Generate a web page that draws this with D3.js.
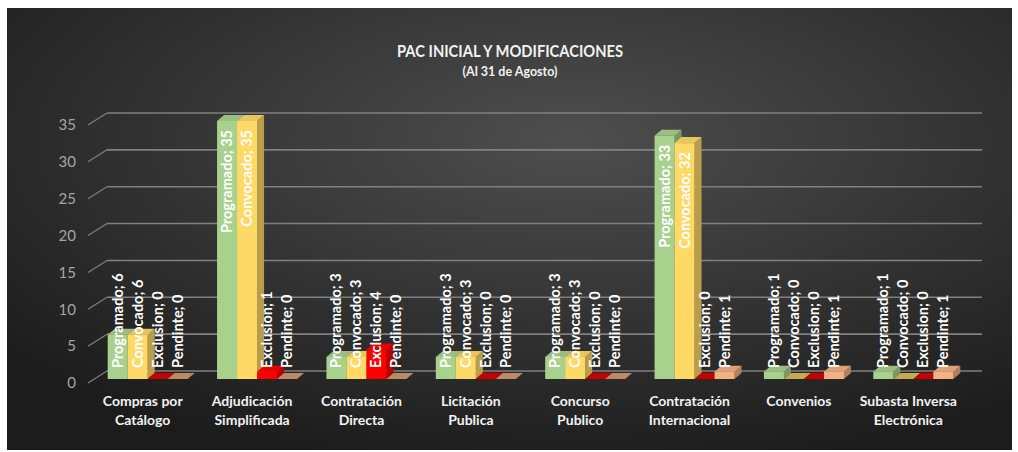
<!DOCTYPE html>
<html lang="es">
<head>
<meta charset="utf-8">
<title>PAC inicial y modificaciones</title>
<script src="https://cdn.jsdelivr.net/npm/d3@7/dist/d3.min.js"></script>
<style type="text/css">
  body { margin: 0; background: #fff; }
  text { font-family: Lato, "Open Sans", sans-serif; }
</style>
</head>
<body>
<script type="text/javascript">

// data
var categories = ["Compras por Catálogo", "Adjudicación Simplificada", "Contratación Directa",
  "Licitación Publica", "Concurso Publico", "Contratación Internacional", "Convenios",
  "Subasta Inversa Electrónica"];
var catLines = [["Compras por", "Catálogo"], ["Adjudicación", "Simplificada"], ["Contratación", "Directa"],
  ["Licitación", "Publica"], ["Concurso", "Publico"], ["Contratación", "Internacional"], ["Convenios"],
  ["Subasta Inversa", "Electrónica"]];
var seriesNames = ["Programado", "Convocado", "Exclusion", "Pendinte"];
var programado = [6, 35, 3, 3, 3, 33, 1, 1];
var convocado  = [6, 35, 3, 3, 3, 32, 0, 0];
var exclusion  = [0, 1, 4, 0, 0, 0, 0, 0];
var pendinte   = [0, 0, 0, 0, 0, 1, 1, 1];
var yTicks = [0, 5, 10, 15, 20, 25, 30, 35];

var seriesValues = [programado, convocado, exclusion, pendinte];
var colors = ["#a9d18e", "#ffd966", "#ff0000", "#f4b183"];

var W = 1018, H = 452;
var depthX = 7, depthY = 6;     // 3d offset of the bars
var wallX = 19, wallY = 12;     // 3d offset of the walls

var svg = d3.select("body").append("svg")
  .attr("width", W).attr("height", H);

var defs = svg.append("defs");
var grad = defs.append("radialGradient").attr("id", "bg")
  .attr("cx", "56%").attr("cy", "30%").attr("r", "75%");
grad.append("stop").attr("offset", "0%").attr("stop-color", "#4e4e4e");
grad.append("stop").attr("offset", "100%").attr("stop-color", "#1c1c1c");

svg.append("rect")
  .attr("x", 7).attr("y", 8).attr("width", 1005).attr("height", 442)
  .attr("fill", "url(#bg)");

// scales
var y = d3.scaleLinear().domain([0, 35]).range([379, 121]);
var x0 = d3.scaleBand().domain(categories).range([93, 968]);
var x1 = d3.scaleBand().domain(seriesNames).range([0, 80]);
var groupOff = (x0.bandwidth() - 80) / 2;

// gridlines (back wall + diagonal on the side wall)
var grid = svg.append("g");
yTicks.forEach(function (t) {
  var yb = y(t) - 8;
  grid.append("line")
    .attr("x1", 107).attr("x2", 982).attr("y1", yb).attr("y2", yb)
    .attr("stroke", "#808080").attr("stroke-width", 1.6);
  grid.append("line")
    .attr("x1", 107 - wallX).attr("y1", yb + wallY).attr("x2", 107).attr("y2", yb)
    .attr("stroke", "#808080").attr("stroke-width", 1.2);
});

// y axis labels
var yAxis = svg.append("g")
  .attr("transform", "translate(80,4)")
  .call(d3.axisLeft(y).tickValues(yTicks).tickSize(0).tickPadding(4));
yAxis.select(".domain").remove();
yAxis.selectAll("text")
  .attr("fill", "#a6a6a6").style("font-size", "15px").style("font-family", "Lato, sans-serif");

function shade(c, k) {
  return d3.color(c).darker(k).formatHex();
}

// bars
var bars = svg.append("g");
var labels = svg.append("g");
categories.forEach(function (cat, i) {
  seriesNames.forEach(function (s, j) {
    var v = seriesValues[j][i];
    var xl = x0(cat) + groupOff + x1(s);
    var w = x1.bandwidth();
    var yt = y(v), yb = y(0);
    var c = colors[j];
    // side
    if (v > 0) {
      bars.append("path")
        .attr("d", "M" + (xl + w) + "," + yb + "L" + (xl + w + depthX) + "," + (yb - depthY) +
          "L" + (xl + w + depthX) + "," + (yt - depthY) + "L" + (xl + w) + "," + yt + "Z")
        .attr("fill", shade(c, 0.9));
      bars.append("rect")
        .attr("x", xl).attr("y", yt).attr("width", w).attr("height", yb - yt)
        .attr("fill", c);
    }
    // top
    bars.append("path")
      .attr("d", "M" + xl + "," + yt + "L" + (xl + depthX) + "," + (yt - depthY) +
        "L" + (xl + w + depthX) + "," + (yt - depthY) + "L" + (xl + w) + "," + yt + "Z")
      .attr("fill", v > 0 ? shade(c, 0.25) : shade(c, 0.7));

    // data label
    var lbl = labels.append("text")
      .attr("fill", "#ffffff")
      .style("font-size", "14.5px").style("font-weight", "bold")
      .text(s + "; " + v);
    var len = lbl.node().getComputedTextLength();
    var cx = xl + w / 2 + 5;
    var bottom = Math.min(yb - 11, yt + 9 + len);
    lbl.attr("transform", "translate(" + cx + "," + bottom + ") rotate(-90)");
  });
});

// category labels
var xAxis = svg.append("g")
  .attr("transform", "translate(0,392)")
  .call(d3.axisBottom(x0).tickSize(0).tickFormat(""));
xAxis.select(".domain").remove();
xAxis.selectAll(".tick").each(function (d, i) {
  var lx = groupOff + 40 - x0.bandwidth() / 2 - 5;
  var t = d3.select(this).append("text")
    .attr("text-anchor", "middle")
    .attr("fill", "#f2f2f2")
    .style("font-size", "14px").style("font-weight", "bold");
  catLines[i].forEach(function (line, k) {
    t.append("tspan")
      .attr("x", lx)
      .attr("y", 14 + k * 19)
      .text(line);
  });
});

// titles
svg.append("text")
  .attr("x", 510).attr("y", 57)
  .attr("text-anchor", "middle")
  .attr("fill", "#f2f2f2")
  .attr("textLength", 226).attr("lengthAdjust", "spacingAndGlyphs")
  .style("font-size", "17px").style("font-weight", "bold")
  .text("PAC INICIAL Y MODIFICACIONES");
svg.append("text")
  .attr("x", 510).attr("y", 76)
  .attr("text-anchor", "middle")
  .attr("fill", "#f2f2f2")
  .style("font-size", "12.5px").style("font-weight", "bold")
  .text("(Al 31 de Agosto)");

</script>
</body>
</html>
